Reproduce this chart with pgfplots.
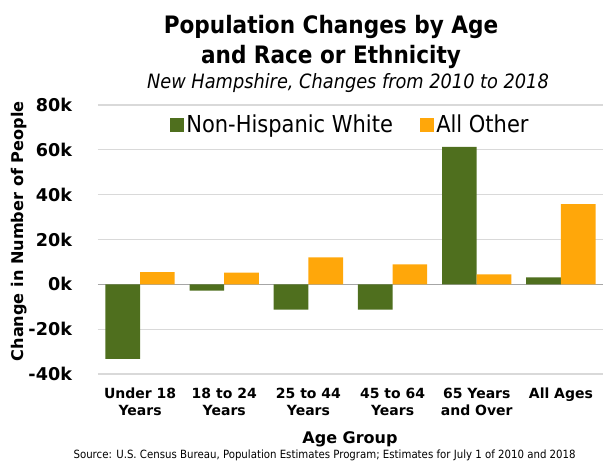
\documentclass[border=0pt]{standalone}
\usepackage{pgfplots}
\pgfplotsset{compat=1.18}
\usepackage{fontspec}
\setmainfont{DejaVu Sans}
\newfontfamily\condfont{DejaVu Sans Condensed}
\definecolor{nhw}{HTML}{4F6F1E}
\definecolor{oth}{HTML}{FFA70A}
\definecolor{gridc}{HTML}{D9D9D9}
\definecolor{zeroc}{HTML}{A6A6A6}
\begin{document}
\begin{tikzpicture}
\path[use as bounding box] (-73.5pt,-66pt) rectangle (378.75pt,280.5pt);
\begin{axis}[
  at={(0,0)}, anchor=south west,
  scale only axis, width=378.75pt, height=201.75pt,
  xmin=-0.5, xmax=5.5, ymin=-40000, ymax=80000,
  ybar=0pt, bar width=26pt,
  axis line style={draw=none},
  major tick length=0pt,
  scaled y ticks=false,
  ymajorgrids, grid style={gridc, line width=0.8pt},
  ytick={-40000,-20000,0,20000,40000,60000,80000},
  yticklabels={-40k,-20k,0k,20k,40k,60k,80k},
  yticklabel style={font=\fontsize{13.2}{15}\selectfont\bfseries, xshift=-16pt},
  xtick={0,1,2,3,4,5},
  xticklabels={Under 18\\Years, 18 to 24\\Years, 25 to 44\\Years, 45 to 64\\Years, 65 Years\\and Over, All Ages},
  xticklabel style={font=\fontsize{10.5}{12.5}\selectfont\bfseries, align=center, anchor=north, yshift=-7pt},
  extra y ticks={0}, extra y tick labels={},
  extra y tick style={grid style={zeroc, line width=1pt}},
  legend columns=2,
  legend style={draw=none, fill=none, at={(0.5,0.985)}, anchor=north,
    font=\condfont\fontsize{17.5}{20}\selectfont,
    /tikz/every even column/.append style={column sep=18pt}},
  legend image code/.code={\fill[#1] (0pt,-5.25pt) rectangle (10.5pt,5.25pt);},
]
\addplot[fill=nhw, draw=none] coordinates {(0,-33200) (1,-2800) (2,-11300) (3,-11300) (4,61300) (5,3100)};
\addlegendentry{Non-Hispanic White}
\addplot[fill=oth, draw=none] coordinates {(0,5500) (1,5200) (2,12000) (3,8900) (4,4400) (5,35800)};
\addlegendentry{All Other}
\end{axis}
\node[anchor=base, font=\condfont\bfseries\fontsize{18}{22}\selectfont] at (174.75pt,255.75pt) {Population Changes by Age};
\node[anchor=base, font=\condfont\bfseries\fontsize{18}{22}\selectfont] at (174.75pt,233.25pt) {and Race or Ethnicity};
\node[anchor=base, font=\condfont\itshape\fontsize{14.8}{18}\selectfont] at (187.5pt,214.5pt) {New Hampshire, Changes from 2010 to 2018};
\node[rotate=90, font=\fontsize{12.1}{14}\selectfont\bfseries] at (-59pt,107pt) {Change in Number of People};
\node[anchor=base, font=\fontsize{12}{14}\selectfont\bfseries] at (189pt,-52pt) {Age Group};
\node[anchor=base, font=\condfont\fontsize{8.5}{10}\selectfont] at (170pt,-63.5pt) {Source: U.S. Census Bureau, Population Estimates Program; Estimates for July 1 of 2010 and 2018};
\end{tikzpicture}
\end{document}
